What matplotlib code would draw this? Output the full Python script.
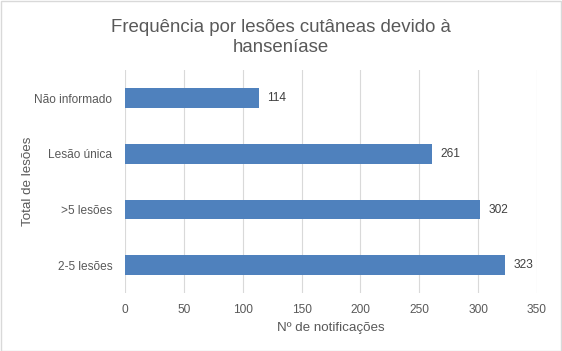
import matplotlib
matplotlib.use("Agg")
import matplotlib.pyplot as plt
from matplotlib.patches import Rectangle

categories = ["2-5 lesões", ">5 lesões", "Lesão única", "Não informado"]
values = [323, 302, 261, 114]
xticks = [0, 50, 100, 150, 200, 250, 300, 350]

plt.rcParams['font.family'] = ['Liberation Sans', 'DejaVu Sans']
gray = "#595959"

fig = plt.figure(figsize=(5.62, 3.51), dpi=100)
ax = fig.add_axes([0.2224, 0.165, 0.733, 0.635])

y = list(range(len(categories)))
ax.barh(y, values, height=0.35, color="#4F81BD", zorder=3)
for yi, v in zip(y, values):
    ax.annotate(str(v), (v, yi), xytext=(6, 0), textcoords="offset points",
                va="center", ha="left", fontsize=8.6, color="#404040")

ax.set_xlim(0, 350)
ax.set_ylim(-0.5, len(categories) - 0.5)
ax.set_xticks(xticks)
ax.set_yticks(y)
ax.set_yticklabels(categories)
ax.tick_params(axis="both", length=0, labelsize=8.6, labelcolor=gray)
ax.tick_params(axis="x", pad=8)
ax.tick_params(axis="y", pad=9)
ax.grid(axis="x", color="#D9D9D9", linewidth=0.8, zorder=0)
for s in ax.spines.values():
    s.set_visible(False)

ax.set_xlabel("Nº de notificações", fontsize=9.6, color=gray, labelpad=4)
ax.set_ylabel("Total de lesões", fontsize=9.6, color=gray, labelpad=0)

fig.text(0.5, 0.893, "Frequência por lesões cutâneas devido à\nhanseníase",
         ha="center", va="center", fontsize=13.4, color=gray, linespacing=1.2)

fig.patches.append(Rectangle((0.001, 0.001), 0.997, 0.997, transform=fig.transFigure,
                             fill=False, edgecolor="#D9D9D9", linewidth=1))

fig.savefig("out.png", dpi=100)
